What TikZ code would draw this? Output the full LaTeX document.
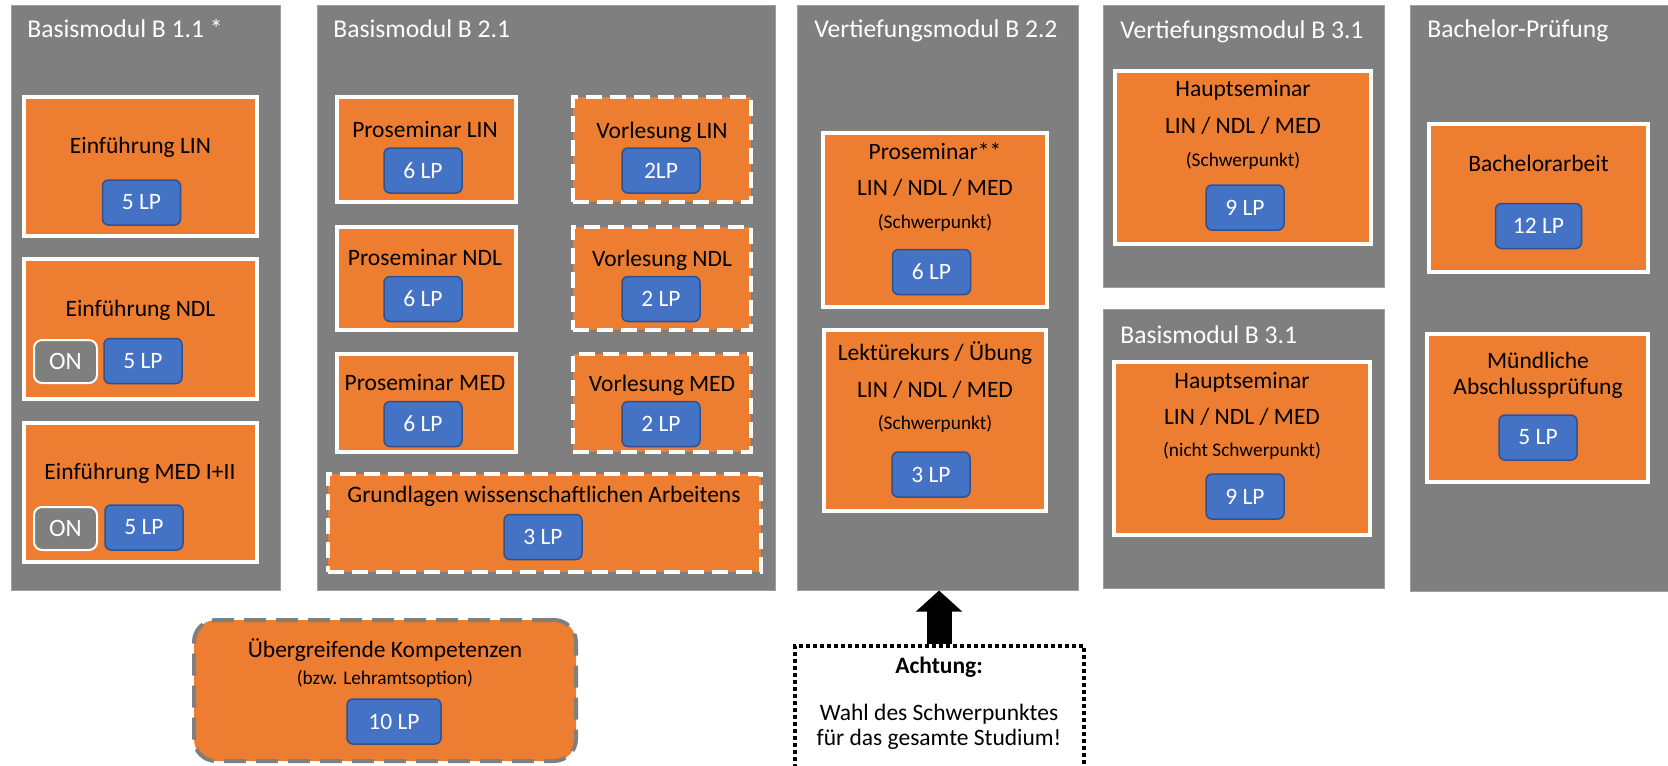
\documentclass[tikz,border=0pt]{standalone}
\usepackage{fontspec}
\setmainfont{Carlito}
\usetikzlibrary{arrows.meta}
\definecolor{modulgrau}{HTML}{7F7F7F}
\definecolor{kursorange}{HTML}{ED7D31}
\definecolor{lpblau}{HTML}{4472C4}
\definecolor{lprand}{HTML}{2F528F}
\begin{document}
\begin{tikzpicture}[x=.5pt,y=-.5pt,
  sz/.style 2 args={minimum width=#1*.5pt,minimum height=#2*.5pt},
  modul/.style={fill=modulgrau,draw=modulgrau!75!white,line width=.5pt,inner sep=0},
  titel/.style={anchor=base west,inner sep=0,text=white,font=\fontsize{12.8}{15}\selectfont},
  kurs/.style={fill=kursorange,draw=white,line width=2pt,inner sep=0},
  vorl/.style={kurs,dash pattern=on 8pt off 4pt},
  txt/.style={inner sep=0,text height=8.2pt,text depth=2.4pt,font=\fontsize{11.75}{14}\selectfont},
  klein/.style={inner sep=0,text height=6.8pt,text depth=1.9pt,font=\fontsize{9.65}{12}\selectfont},
  lp/.style={sz={78}{45},fill=lpblau,draw=lprand,line width=.75pt,rounded corners=3pt,inner sep=0,
    text=white,font=\fontsize{11.75}{14}\selectfont},
  online/.style={sz={63}{43},fill=modulgrau,draw=white,line width=1pt,rounded corners=4pt,inner sep=0,
    text=white,font=\fontsize{12.5}{15}\selectfont},
  uebergr/.style={fill=kursorange,draw=modulgrau,line width=2pt,dash pattern=on 11pt off 5pt,
    rounded corners=11pt,inner sep=0},
  hinweis/.style={draw=black,line width=2pt,dash pattern=on 2pt off 1.5pt,inner sep=0},
  pfeil/.style={line width=12.5pt,-{Triangle[length=10.5pt,width=22.5pt]}}]
\useasboundingbox (0,0) rectangle (1668,765);
\clip (0,0) rectangle (1668,765);
%
% Module
\node[modul,sz={269}{584}] (b11) at (145.5,298) {};
\node[modul,sz={458}{584}] (b21) at (546,298) {};
\node[modul,sz={281}{584}] (v22) at (937.5,298) {};
\node[modul,sz={281}{281}] (v31) at (1243.5,146.5) {};
\node[modul,sz={281}{279}] (b31) at (1243.5,448.5) {};
\node[modul,sz={258}{585}] (bp) at (1539,298.5) {};
\node[titel] (t-b11) at (27,38) {Basismodul B 1.1 *};
\node[titel] (t-b21) at (333,38) {Basismodul B 2.1};
\node[titel] (t-v22) at (814,38) {Vertiefungsmodul B 2.2};
\node[titel] (t-v31) at (1120,39) {Vertiefungsmodul B 3.1};
\node[titel] (t-b31) at (1120,343) {Basismodul B 3.1};
\node[titel] (t-bp) at (1427,38) {Bachelor-Prüfung};
%
% Basismodul B 1.1
\node[kurs,sz={233}{139}] (einLIN) at (140.5,166.5) {};
\node[txt] (t-einLIN) at (140.5,148) {Einführung LIN};
\node[lp] (lp-einLIN) at (141.5,202.5) {5 LP};
\node[kurs,sz={233}{140}] (einNDL) at (140.5,329) {};
\node[txt] (t-einNDL) at (140.5,311) {Einführung NDL};
\node[online] (on-einNDL) at (65.5,361.5) {ON};
\node[lp] (lp-einNDL) at (143,361) {5 LP};
\node[kurs,sz={233}{139}] (einMED) at (140.5,492.5) {};
\node[txt] (t-einMED) at (140,474) {Einführung MED I+II};
\node[online] (on-einMED) at (65.5,528.5) {ON};
\node[lp] (lp-einMED) at (144,527.5) {5 LP};
%
% Basismodul B 2.1
\foreach \fach/\y/\h/\vlp in {LIN/149.5/105/2LP,NDL/278/103/2 LP,MED/403/98/2 LP}{
  \node[kurs,sz={179}{\h}] (ps\fach) at (426.5,\y) {};
  \node[txt] (t-ps\fach) at (425,\y-18) {Proseminar \fach};
  \node[lp] (lp-ps\fach) at (423,\y+21) {6 LP};
  \node[vorl,sz={178}{\h}] (vl\fach) at (662,\y) {};
  \node[txt] (t-vl\fach) at (662,\y-17) {Vorlesung \fach};
  \node[lp] (lp-vl\fach) at (661,\y+21) {\vlp};
}
\node[vorl,sz={433}{98}] (gwa) at (544.5,523) {};
\node[txt] (t-gwa) at (544,497) {Grundlagen wissenschaftlichen Arbeitens};
\node[lp] (lp-gwa) at (543,537) {3 LP};
%
% Vertiefungsmodul B 2.2
\node[kurs,sz={224}{174}] (ps22) at (935,220) {};
\node[txt] (t-ps22a) at (935,154) {Proseminar**};
\node[txt] (t-ps22b) at (935,190) {LIN / NDL / MED};
\node[klein] (t-ps22c) at (935,224) {(Schwerpunkt)};
\node[lp] (lp-ps22) at (931.5,272) {6 LP};
\node[kurs,sz={222}{181}] (lk22) at (935,420.5) {};
\node[txt] (t-lk22a) at (935,355) {Lektürekurs / Übung};
\node[txt] (t-lk22b) at (935,392) {LIN / NDL / MED};
\node[klein] (t-lk22c) at (935,425) {(Schwerpunkt)};
\node[lp] (lp-lk22) at (931,474.5) {3 LP};
%
% Vertiefungsmodul B 3.1 / Basismodul B 3.1
\node[kurs,sz={256}{173}] (hs31) at (1243,157.5) {};
\node[txt] (t-hs31a) at (1243,91) {Hauptseminar};
\node[txt] (t-hs31b) at (1243,128) {LIN / NDL / MED};
\node[klein] (t-hs31c) at (1243,162) {(Schwerpunkt)};
\node[lp] (lp-hs31) at (1245,207.5) {9 LP};
\node[kurs,sz={256}{173}] (hsb31) at (1242,448.5) {};
\node[txt] (t-hsb31a) at (1242,383) {Hauptseminar};
\node[txt] (t-hsb31b) at (1242,419) {LIN / NDL / MED};
\node[klein] (t-hsb31c) at (1242,452) {(nicht Schwerpunkt)};
\node[lp] (lp-hsb31) at (1245,496.5) {9 LP};
%
% Bachelor-Pruefung
\node[kurs,sz={219}{148}] (ba) at (1538.5,198) {};
\node[txt] (t-ba) at (1538.5,166) {Bachelorarbeit};
\node[lp,sz={86}{45}] (lp-ba) at (1538.5,226) {12 LP};
\node[kurs,sz={221}{148}] (mp) at (1537.5,408) {};
\node[txt] (t-mpa) at (1538,363) {Mündliche};
\node[txt] (t-mpb) at (1538,389) {Abschlussprüfung};
\node[lp] (lp-mp) at (1538,437.5) {5 LP};
%
% unten
\node[uebergr,sz={382}{141}] (uk) at (385,690.5) {};
\node[txt] (t-uka) at (385,652) {Übergreifende Kompetenzen};
\node[klein] (t-ukb) at (385,680) {(bzw. Lehramtsoption)};
\node[lp,sz={94}{45}] (lp-uk) at (394,721.5) {10 LP};
\node[hinweis,sz={289}{200},anchor=north] (ach) at (939,644) {};
\node[txt,font=\fontsize{11.75}{14}\selectfont\bfseries] (t-acha) at (939,668) {Achtung:};
\node[txt] (t-achb) at (939,715) {Wahl des Schwerpunktes};
\node[txt] (t-achc) at (939,740) {für das gesamte Studium!};
\draw[pfeil] (ach.north) -- (ach.north |- v22.south);
\end{tikzpicture}
\end{document}
